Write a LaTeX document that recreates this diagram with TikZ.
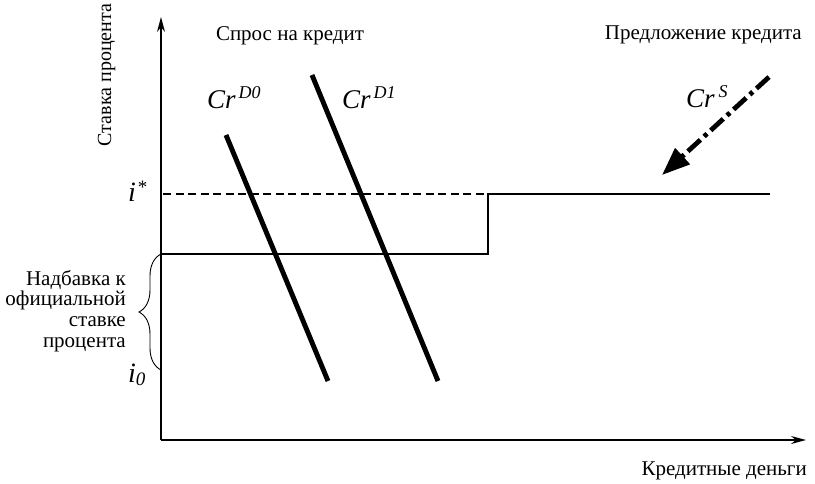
\documentclass[tikz,border=0pt]{standalone}
\usepackage{fontspec}
\setmainfont{Liberation Serif}
\usetikzlibrary{arrows.meta,decorations.pathreplacing}
\begin{document}
\begin{tikzpicture}[x=1pt,y=-1pt,
  lbl/.style={font=\fontsize{21}{21}\selectfont, inner sep=0pt},
  crlbl/.style={font=\fontsize{27}{29}\selectfont\itshape, inner sep=0pt, anchor=base west},
  ilbl/.style={font=\fontsize{28}{30}\selectfont\itshape, inner sep=0pt, anchor=base west},
  axis/.style={line width=1.1pt,-{Stealth[length=15pt,width=8pt]}},
  demand/.style={line width=4.9pt},
  stepline/.style={line width=2.9pt},
  dashline/.style={line width=1.7pt, dash pattern=on 8pt off 4.5pt}]
\useasboundingbox (0,0) rectangle (815,483);
% axes
\coordinate (O) at (161,440);
\coordinate (Ytop) at (161,17);
\coordinate (Xend) at (806,440);
\draw[axis] (O) -- (Ytop);
\draw[axis] (O) -- (Xend);
% labels of axes
\node[lbl, rotate=90, anchor=base, font=\fontsize{20}{20}\selectfont] (ylab) at (111,75) {Ставка процента};
\node[lbl, anchor=base east] (xlab) at (807,475) {Кредитные деньги};
\node[lbl, anchor=base] (dem) at (290,40) {Спрос на кредит};
\node[lbl, anchor=base east] (sup) at (802,39) {Предложение кредита};
% dashed and step
\coordinate (Ds) at (163,194);
\coordinate (De) at (487,194);
\draw[dashline] (Ds) -- (De);
\coordinate (S0) at (161,254);
\coordinate (S1) at (488,254);
\coordinate (S2) at (488,194);
\coordinate (S3) at (770,194);
\draw[stepline] (S0) -- (S1) -- (S2) -- (S3);
% demand curves
\coordinate (A0) at (226,135);
\coordinate (A1) at (328,381);
\coordinate (B0) at (312,75);
\coordinate (B1) at (438,381);
\draw[demand] (A0) -- (A1);
\draw[demand] (B0) -- (B1);
\node[crlbl] (crd0) at (207,108) {Cr\hspace{3pt}\raisebox{10pt}{\fontsize{18}{20}\selectfont D0}};
\node[crlbl] (crd1) at (342,108) {Cr\hspace{3pt}\raisebox{10pt}{\fontsize{18}{20}\selectfont D1}};
% supply arrow
\coordinate (C0) at (769,77);
\coordinate (C1) at (662,175);
\draw[line width=4.8pt, dash pattern=on 17pt off 5pt on 4pt off 5pt, -{Triangle[length=28pt,width=21pt]}] (C0) -- (C1);
\node[crlbl] (crs) at (686,107) {Cr\hspace{4pt}\raisebox{10pt}{\fontsize{18}{20}\selectfont S}};
% i labels
\node[ilbl] (istar) at (128,201) {i\hspace{2pt}\raisebox{8pt}{\fontsize{19}{20}\selectfont\upshape *}};
\node[ilbl] (izero) at (128,382) {i\raisebox{-3pt}{\fontsize{19}{20}\selectfont 0}};
% brace
\coordinate (Bt) at (161,254);
\coordinate (Bb) at (161,370);
\draw[line width=0.9pt, decoration={brace, amplitude=22pt, aspect=0.5}, decorate] (Bb) -- (Bt);
\node[lbl, align=right, anchor=east, font=\fontsize{21}{20.7}\selectfont] (bracetext) at (126,311) {Надбавка к\\официальной\\ставке\\процента};
\end{tikzpicture}
\end{document}
